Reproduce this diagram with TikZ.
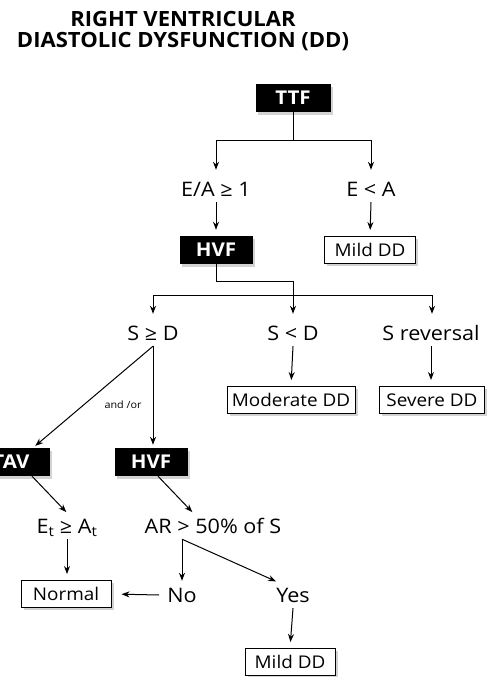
\documentclass[tikz,border=0pt]{standalone}
\usepackage{fontspec}
\setmainfont{Open Sans}[FakeStretch=1.08]
\newfontfamily\titlefont{Open Sans}[FakeStretch=1.05]
\usetikzlibrary{shadows, arrows.meta}

\begin{document}
\begin{tikzpicture}[
    x=1pt, y=-1pt,
    darkbox/.style={
        fill=black,
        text=white,
        minimum width=73pt,
        minimum height=28pt,
        inner sep=0pt,
        font=\bfseries\fontsize{19}{19}\selectfont,
        drop shadow={shadow xshift=2.5pt, shadow yshift=-2.5pt, opacity=0.35}
    },
    lightbox/.style={
        draw,
        fill=white,
        line width=1pt,
        minimum height=27pt,
        inner xsep=4pt,
        inner ysep=0pt,
        font=\fontsize{17.5}{17.5}\selectfont,
        drop shadow={shadow xshift=2.5pt, shadow yshift=-2.5pt, opacity=0.35}
    },
    lbl/.style={
        text height=14pt,
        text depth=0pt,
        inner xsep=8pt,
        inner ysep=6pt,
        font=\fontsize{20}{20}\selectfont
    },
    arrow/.style={-{Stealth[length=8pt, width=6pt]}, line width=1pt, shorten >=6pt}
]
    \useasboundingbox (0,0) rectangle (487,677);
    \clip (0,0) rectangle (487,677);

    % title
    \node[font=\titlefont\bfseries\fontsize{21}{21}\selectfont, align=center] (title) at (183,31) {RIGHT VENTRICULAR\\DIASTOLIC DYSFUNCTION (DD)};

    % first level
    \node[darkbox, minimum width=75pt] (ttf) at (293,98) {TTF};
    \node[lbl] (ea) at (216,189) {E/A ≥ 1};
    \node[lbl] (elta) at (371,189) {E < A};
    \node[darkbox] (hvfa) at (216,250) {HVF};
    \node[lightbox, minimum width=91pt] (milda) at (370,250) {Mild DD};

    % second level
    \node[lbl] (sged) at (153,333) {S ≥ D};
    \node[lbl] (sltd) at (293,333) {S < D};
    \node[lbl] (srev) at (431,333) {S reversal};
    \node[lightbox, minimum width=128pt] (moderate) at (291,400) {Moderate DD};
    \node[lightbox, minimum width=105pt] (severe) at (432,400) {Severe DD};
    \node[font=\fontsize{10}{10}\selectfont] (andor) at (123,405) {and /or};

    % third level
    \node[darkbox, minimum width=77pt] (tav) at (11,462) {TAV};
    \node[darkbox] (hvfb) at (151,462) {HVF};
    \node[lbl] (etat) at (67,526) {E\textsubscript{t} ≥ A\textsubscript{t}};
    \node[lbl] (ar) at (213,526) {AR > 50\% of S};
    \node[lightbox, minimum width=90pt] (normal) at (66,594) {Normal};
    \node[lbl] (no) at (182,595) {No};
    \node[lbl] (yes) at (293,595) {Yes};
    \node[lightbox, minimum width=90pt] (mildb) at (290,662) {Mild DD};

    \coordinate (ja) at (293,140);
    \coordinate (jb) at (293,281);
    \coordinate (jl) at (153,295);
    \coordinate (jr) at (432,295);

    \draw[line width=1pt] (ttf.south) -- (ja);
    \draw[arrow] (ja) -| (ea.north);
    \draw[arrow] (ja) -| (elta.north);
    \draw[arrow] (ea.south) -- (hvfa.north);
    \draw[arrow] (elta.south) -- (milda.north);

    \draw[arrow] (hvfa.south) |- (jb) -- (sltd.north);
    \draw[line width=1pt] (jl) -- (jr);
    \draw[arrow] (jl) -- (sged.north);
    \draw[arrow] (jr) -- (jr |- srev.north);
    \draw[arrow] (sltd.south) -- (moderate.north);
    \draw[arrow] (srev.south) -- (srev.south |- severe.north);

    \draw[arrow, shorten >=3pt] (sged.south) -- ([xshift=22pt]tav.north);
    \draw[arrow, shorten >=3pt] (sged.south) -- (sged.south |- hvfb.north);
    \draw[arrow, shorten >=1pt] ([xshift=21pt]tav.south) -- (etat.north);
    \draw[arrow, shorten >=1pt] ([xshift=7pt]hvfb.south) -- ([xshift=-20pt]ar.north);
    \draw[arrow] (etat.south) -- (etat.south |- normal.north);
    \draw[arrow, shorten >=1pt] (ar.south -| no.north) -- (no.north);
    \draw[arrow, shorten >=1pt] (ar.south -| no.north) -- ([xshift=-16pt]yes.north);
    \draw[arrow, shorten >=10pt] (no.west) -- (normal.east);
    \draw[arrow] (yes.south) -- (mildb.north);
\end{tikzpicture}
\end{document}
